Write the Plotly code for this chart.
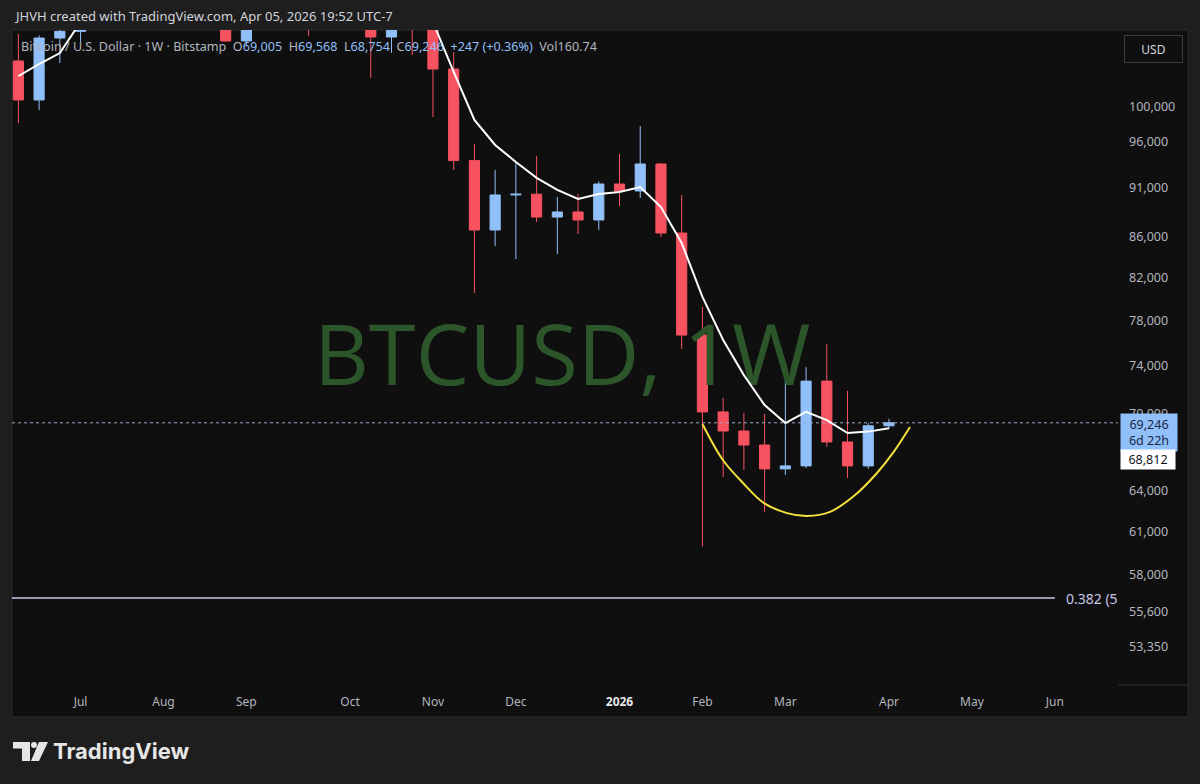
import math
import plotly.graph_objects as go

# ---------------- data ----------------
weeks = ["2025-06-16", "2025-06-23", "2025-06-30", "2025-07-07", "2025-07-14", "2025-07-21",
         "2025-07-28", "2025-08-04", "2025-08-11", "2025-08-18", "2025-08-25", "2025-09-01",
         "2025-09-08", "2025-09-15", "2025-09-22", "2025-09-29", "2025-10-06", "2025-10-13",
         "2025-10-20", "2025-10-27", "2025-11-03", "2025-11-10", "2025-11-17", "2025-11-24",
         "2025-12-01", "2025-12-08", "2025-12-15", "2025-12-22", "2025-12-29", "2026-01-05",
         "2026-01-12", "2026-01-19", "2026-01-26", "2026-02-02", "2026-02-09", "2026-02-16",
         "2026-02-23", "2026-03-02", "2026-03-09", "2026-03-16", "2026-03-23", "2026-03-30",
         "2026-04-06"]

opens = [105500, 100820, 108360, 109200, 119000, 117300, 119400, 114200, 119200, 117400,
         113500, 107980, 111200, 115300, 115200, 112200, 123500, 115200, 108490, 114500,
         110500, 104520, 93950, 86660, 90270, 90350, 87980, 88500, 87680, 91430,
         90690, 93580, 86360, 76690, 70130, 68590, 67480, 65630, 65860, 72690,
         67720, 65860, 69005]
highs = [108860, 108700, 110500, 119500, 123100, 120200, 119700, 119300, 124400, 117600,
         113700, 113400, 116300, 117900, 115400, 125700, 126200, 115900, 116000, 116400,
         111200, 106610, 95790, 92930, 93800, 94460, 90060, 90370, 91700, 94680,
         97810, 93700, 90270, 79250, 71280, 70050, 69970, 73880, 73880, 75890,
         71860, 69230, 69568]
lows = [98150, 99650, 105250, 107850, 115700, 114700, 112000, 112700, 116800, 110700,
        107900, 107480, 110600, 114700, 108610, 111600, 110000, 103430, 106500, 106240,
        98840, 92930, 80540, 85060, 83780, 87470, 84270, 86260, 86670, 89120,
        89950, 85960, 75450, 59950, 65020, 65550, 62430, 65170, 65700, 67330,
        64940, 65650, 68754]
closes = [100820, 108360, 109200, 119000, 117300, 119400, 114200, 119200, 117400, 113500,
          107980, 111200, 115300, 115200, 112200, 123500, 115200, 108490, 114500, 110500,
          104520, 93950, 86660, 90270, 90350, 87980, 88500, 87680, 91430, 90690,
          93580, 86360, 76690, 70130, 68590, 67480, 65630, 65860, 72690, 67720,
          65860, 69005, 69246]
ma_values = [103670, 105130, 106480, 110400, 113000, 115000, 116500, 117300, 117800, 116800,
             115100, 113600, 113200, 113300, 113500, 115000, 116000, 115600, 115000, 114200,
             110400, 104160, 98500, 95680, 93800, 92080, 90800, 89850, 90370, 90580,
             91110, 89010, 85360, 80170, 76250, 73200, 70690, 69230, 70130, 69470,
             68430, 68540, 68812]

# hand-drawn arc (yellow)
arc_dates = ["2026-02-02 00:00", "2026-02-08 22:00", "2026-02-15 17:00", "2026-02-22 19:00",
             "2026-03-02 14:00", "2026-03-09 07:00", "2026-03-17 02:00", "2026-03-24 20:00",
             "2026-04-01 23:00", "2026-04-07 08:00", "2026-04-13 02:00"]
arc_prices = [69150, 66310, 64560, 63070, 62340, 62130, 62430, 63530, 65320, 66860, 68910]

fib_price = 56480
fib_label = "0.382 (5"
last_price = 69246
ma_last = 68812

y_ticks = [100000, 96000, 91000, 86000, 82000, 78000, 74000, 70000, 64000, 61000, 58000, 55600, 53350]
x_tick_dates = ["2025-07-07", "2025-08-04", "2025-09-01", "2025-10-06", "2025-11-03", "2025-12-01",
                "2026-01-05", "2026-02-02", "2026-03-02", "2026-04-06", "2026-05-04", "2026-06-01"]
x_tick_text = ["Jul", "Aug", "Sep", "Oct", "Nov", "Dec",
               "<b><span style='color:#e8e8e8'>2026</span></b>", "Feb", "Mar", "Apr", "May", "Jun"]

# ---------------- layout geometry ----------------
W, H = 1200, 784
PL, PR, PT, PB = 12, 1118, 30, 685
X_RANGE = ["2025-06-13 20:24", "2026-06-22 08:00"]
Y_RANGE = [4.70789, 5.03891]


def px(x):
    return (x - PL) / (PR - PL)


def py(y):
    return (PB - y) / (PB - PT)


def path_px(points):
    s = "M " + " L ".join(f"{px(a):.5f},{py(b):.5f}" for a, b in points) + " Z"
    return s


BLUE = "#90bff9"
RED = "#f7525f"
BG_OUT = "#1e1e1e"
BG_IN = "#0f0f0f"
GRAY = "#b2b5be"
FONT = "Noto Sans"

fig = go.Figure()

# watermark (text trace, drawn beneath everything)
fig.add_trace(go.Scatter(
    x=["2025-12-16 16:00"], y=[74140], mode="text", text=["BTCUSD, 1W"],
    textposition="middle center",
    textfont=dict(size=85, color="#2c562a", family="Open Sans"),
    hoverinfo="skip", showlegend=False))

# fib level line
fig.add_trace(go.Scatter(
    x=["2025-06-01", "2026-06-01"], y=[fib_price, fib_price], mode="lines",
    line=dict(color="#c9c4e6", width=1.5), hoverinfo="skip", showlegend=False))

# last price dotted line
fig.add_trace(go.Scatter(
    x=[X_RANGE[0], X_RANGE[1]], y=[last_price, last_price], mode="lines",
    line=dict(color="#9aaecb", width=1, dash="dot"), hoverinfo="skip", showlegend=False))

# candles
fig.add_trace(go.Candlestick(
    x=weeks, open=opens, high=highs, low=lows, close=closes,
    increasing=dict(line=dict(color=BLUE, width=1), fillcolor=BLUE),
    decreasing=dict(line=dict(color=RED, width=1), fillcolor=RED),
    whiskerwidth=0, hoverinfo="skip", showlegend=False))

# moving average (white)
fig.add_trace(go.Scatter(
    x=weeks, y=ma_values, mode="lines", line=dict(color="#ffffff", width=2),
    hoverinfo="skip", showlegend=False))

# yellow arc drawing
fig.add_trace(go.Scatter(
    x=arc_dates, y=arc_prices, mode="lines", line=dict(color="#f5e03c", width=2, shape="spline"),
    hoverinfo="skip", showlegend=False))

shapes = [
    # chart panel background
    dict(type="rect", xref="paper", yref="paper", x0=px(12), x1=px(1188), y0=py(717), y1=py(30),
         fillcolor=BG_IN, line=dict(color="#2a2a2a", width=1), layer="below"),
    # separator at axes corner
    dict(type="line", xref="paper", yref="paper", x0=px(1118), x1=px(1188), y0=py(685), y1=py(685),
         line=dict(color="#2e2e2e", width=1)),
    # TradingView logo glyph
    dict(type="path", xref="paper", yref="paper",
         path=path_px([(13, 742), (30, 742), (30, 761), (22, 761), (22, 748.5), (13, 748.5)]),
         fillcolor="#e6e6e6", line=dict(width=0)),
    dict(type="circle", xref="paper", yref="paper", x0=px(31), x1=px(37), y0=py(748), y1=py(742),
         fillcolor="#e6e6e6", line=dict(width=0)),
    dict(type="path", xref="paper", yref="paper",
         path=path_px([(39, 742), (48, 742), (39, 761), (31, 761)]),
         fillcolor="#e6e6e6", line=dict(width=0)),
]

annotations = [
    dict(xref="paper", yref="paper", x=px(12), y=py(16), xanchor="left", yanchor="middle",
         text="JHVH created with TradingView.com, Apr 05, 2026 19:52 UTC-7", showarrow=False,
         font=dict(size=13, color="#d1d4dc", family=FONT)),
    dict(xref="paper", yref="paper", x=px(19), y=py(46), xanchor="left", yanchor="middle",
         text=("Bitcoin / U.S. Dollar · 1W · Bitstamp\u00a0\u00a0"
               f"O<span style='color:{BLUE}'>69,005</span>\u00a0\u00a0"
               f"H<span style='color:{BLUE}'>69,568</span>\u00a0\u00a0"
               f"L<span style='color:{BLUE}'>68,754</span>\u00a0\u00a0"
               f"C<span style='color:{BLUE}'>69,246</span>\u00a0\u00a0"
               f"<span style='color:{BLUE}'>+247 (+0.36%)</span>\u00a0\u00a0"
               "Vol160.74"),
         showarrow=False, font=dict(size=12.6, color=GRAY, family=FONT)),
    # fib label
    dict(xref="paper", yref="paper", x=px(1064), y=py(598), xanchor="left", yanchor="middle",
         text=fib_label, showarrow=False, font=dict(size=14, color="#c9c6e6", family=FONT)),
    # USD button
    dict(xref="paper", yref="paper", x=px(1124), y=py(49), xanchor="left", yanchor="middle",
         text="USD", showarrow=False, width=55, height=24, bgcolor=BG_IN,
         bordercolor="#3c3c3c", borderwidth=1, borderpad=1,
         font=dict(size=12, color="#d1d4dc", family=FONT)),
    # last price label
    dict(xref="paper", yref="paper", x=px(1120), y=py(432), xanchor="left", yanchor="middle",
         text=f"{last_price:,}<br>6d 22h", showarrow=False, width=52, bgcolor=BLUE,
         borderpad=2, font=dict(size=12.5, color="#1a2a44", family=FONT)),
    # MA value label
    dict(xref="paper", yref="paper", x=px(1120), y=py(459), xanchor="left", yanchor="middle",
         text=f"{ma_last:,}", showarrow=False, width=52, bgcolor="#ffffff",
         borderpad=1, font=dict(size=12.5, color="#131722", family=FONT)),
    # footer brand
    dict(xref="paper", yref="paper", x=px(51), y=py(751), xanchor="left", yanchor="middle",
         text="<b>TradingView</b>", showarrow=False,
         font=dict(size=22, color="#e6e6e6", family="Inter")),
]

fig.update_layout(
    width=W, height=H,
    margin=dict(l=PL, r=W - PR, t=PT, b=H - PB),
    paper_bgcolor=BG_OUT, plot_bgcolor=BG_IN,
    showlegend=False, hovermode=False,
    shapes=shapes, annotations=annotations,
    font=dict(family=FONT, color=GRAY),
)
fig.update_xaxes(
    type="date", range=X_RANGE, tickvals=x_tick_dates, ticktext=x_tick_text,
    showgrid=False, zeroline=False, showline=False, ticks="",
    tickfont=dict(size=12, color=GRAY, family=FONT),
    rangeslider=dict(visible=False), ticklabelstandoff=8, fixedrange=True)
fig.update_yaxes(
    type="log", range=Y_RANGE, side="right", tickvals=y_ticks,
    ticktext=[f"{v:,}" for v in y_ticks],
    showgrid=False, zeroline=False, showline=False, ticks="",
    tickfont=dict(size=12.5, color=GRAY, family=FONT), ticklabelstandoff=10, fixedrange=True)

fig.write_html("out.html", config=dict(displayModeBar=False),
               post_script="document.body.style.margin='0';document.body.style.overflow='hidden';document.body.style.background='#1e1e1e';")
